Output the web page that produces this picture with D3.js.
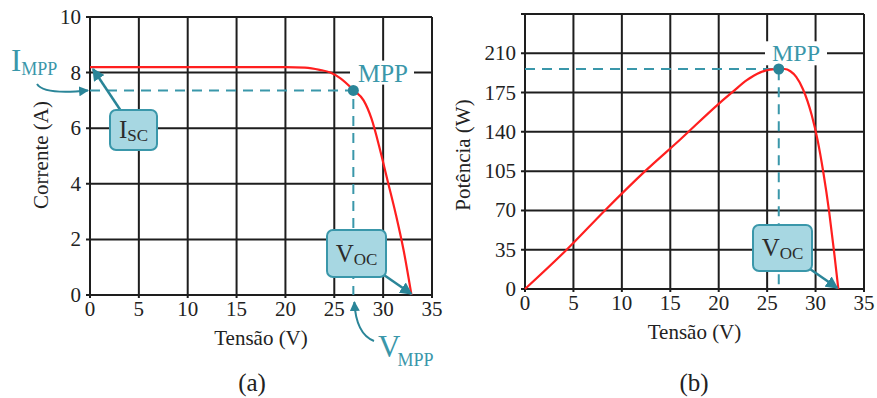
<!DOCTYPE html>
<html><head><meta charset="utf-8">
<script src="https://cdn.jsdelivr.net/npm/d3@7"></script>
<style>
html,body{margin:0;padding:0;background:#fff;}
svg{display:block;}
svg text{font-family:"Liberation Serif","Times New Roman",Tinos,"DejaVu Serif","Noto Serif",serif;}
</style></head>
<body>
<svg id="c" width="877" height="398"></svg>
<script>
// ---- Data ----
const xTicks = [0,5,10,15,20,25,30,35];
const ivTicks = [0,2,4,6,8,10];
const pvTicks = [0,35,70,105,140,175,210];
const pvGrid = [0,35,70,105,140,175,210,245];

const ivV = [0,5,10,15,20,22,23.5,24.6,25.6,27,28,28.8,29.7,30.5,31.3,32.1,32.9];
const ivI = [8.2,8.2,8.2,8.2,8.2,8.18,8.1,8.0,7.8,7.36,7.0,6.35,5.2,4.05,2.9,1.6,0];
const ivMpp = [26.95, 7.36];

const pvV = [0,4.3,8.25,12.4,16,20,21.5,22.9,24.3,25.3,26.2,26.8,27.4,28,28.7,29.6,30.2,30.8,31.4,31.9,32.35];
const pvP = [0,35,70,105,133,165,176,186,193,195.5,196,196,194,189,178,155,133,104,69,34,0];
const pvMpp = [26.2, 196];

const ivVoc = 32.9, pvVoc = 32.35;

// ---- Style ----
const TEAL = "#3a97aa", TEAL_D = "#2a8598", BOXF = "#a7d7e2", RED = "#ff1f1f", GRID = "#1e1e1e";
const svg = d3.select("#c");
const defs = svg.append("defs");
defs.append("marker").attr("id","ah").attr("viewBox","0 0 10 10").attr("refX",9).attr("refY",5)
  .attr("markerWidth",5).attr("markerHeight",5).attr("orient","auto-start-reverse")
  .append("path").attr("d","M0,0 L10,5 L0,10 z").attr("fill",TEAL_D);

function panel(cfg){
  const g = svg.append("g");
  const x = d3.scaleLinear().domain([0,35]).range(cfg.xr);
  const y = d3.scaleLinear().domain(cfg.yd).range(cfg.yr);
  g.append("g").selectAll("line").data(xTicks).join("line")
    .attr("x1",d=>x(d)).attr("x2",d=>x(d)).attr("y1",y.range()[1]).attr("y2",y.range()[0]+3)
    .attr("stroke",GRID).attr("stroke-width",2);
  g.append("g").selectAll("line").data(cfg.grid).join("line")
    .attr("y1",d=>y(d)).attr("y2",d=>y(d)).attr("x1",x.range()[0]-4).attr("x2",x.range()[1])
    .attr("stroke",GRID).attr("stroke-width",2);
  g.append("g").selectAll("text").data(xTicks).join("text")
    .attr("x",d=>x(d)).attr("y",y.range()[0]+21).attr("text-anchor","middle")
    .attr("font-size",21).attr("fill","#222").text(d=>d);
  g.append("g").selectAll("text").data(cfg.ticks).join("text")
    .attr("x",x.range()[0]-9).attr("y",d=>y(d)+7).attr("text-anchor","end")
    .attr("font-size",21).attr("fill","#222").text(d=>d);
  g.append("text").attr("x",(x.range()[0]+x.range()[1])/2).attr("y",y.range()[0]+50)
    .attr("text-anchor","middle").attr("font-size",21).attr("fill","#222").text("Tensão (V)");
  g.append("text").attr("transform",`translate(${cfg.ytX},155) rotate(-90)`)
    .attr("text-anchor","middle").attr("font-size",21).attr("fill","#222").text(cfg.ytitle);
  g.append("text").attr("x",cfg.capX).attr("y",391).attr("text-anchor","middle")
    .attr("font-size",25).attr("fill","#222").text(cfg.cap);
  return {g,x,y};
}

function box(g,x0,y0,w,h,main,sub,fs,sfs){
  g.append("rect").attr("x",x0).attr("y",y0).attr("width",w).attr("height",h).attr("rx",6)
    .attr("fill",BOXF).attr("stroke",TEAL).attr("stroke-width",2);
  const t = g.append("text").attr("x",x0+w/2).attr("y",y0+h/2+8).attr("text-anchor","middle").attr("fill","#2b2b2b");
  t.append("tspan").attr("font-size",fs).text(main);
  t.append("tspan").attr("font-size",sfs).attr("dy",3).text(sub);
}

// ---- Panel (a) ----
const A = panel({xr:[90,432], yd:[0,10], yr:[295,17], grid:ivTicks, ticks:ivTicks,
  ytitle:"Corrente (A)", ytX:48, cap:"(a)", capX:252});
{
  const {g,x,y} = A;
  const mx = x(ivMpp[0]), my = y(ivMpp[1]);
  g.append("path").attr("d",`M${x(0)},${my} H${mx} V${y(0)}`).attr("fill","none")
    .attr("stroke",TEAL).attr("stroke-width",2).attr("stroke-dasharray","10,7");
  g.append("rect").attr("x",350).attr("y",y(8)-12).attr("width",64).attr("height",24).attr("fill","#fff");
  g.append("text").attr("x",383).attr("y",y(8)+9).attr("text-anchor","middle").attr("font-size",25)
    .attr("fill",TEAL).text("MPP");
  const line = d3.line().x((d,i)=>x(ivV[i])).y((d,i)=>y(ivI[i])).curve(d3.curveMonotoneX);
  g.append("path").datum(ivV).attr("d",line).attr("fill","none").attr("stroke",RED).attr("stroke-width",2.2);
  g.append("circle").attr("cx",mx).attr("cy",my).attr("r",5.5).attr("fill",TEAL_D);
  g.append("line").attr("x1",121).attr("y1",111).attr("x2",x(0)+3).attr("y2",y(ivI[0])+2)
    .attr("stroke",TEAL_D).attr("stroke-width",2.5).attr("marker-end","url(#ah)");
  box(g,110,110,47,40,"I","SC",25,17);
  g.append("line").attr("x1",384).attr("y1",275).attr("x2",x(ivVoc)).attr("y2",y(0)-1)
    .attr("stroke",TEAL_D).attr("stroke-width",2.5).attr("marker-end","url(#ah)");
  box(g,327,230,59,47,"V","OC",25,17);
  const t1 = g.append("text").attr("x",11).attr("y",71).attr("fill",TEAL);
  t1.append("tspan").attr("font-size",31).text("I");
  t1.append("tspan").attr("font-size",18).attr("dy",4).text("MPP");
  g.append("path").attr("d",`M37,84 Q44,95 ${x(0)-2},${my}`).attr("fill","none")
    .attr("stroke",TEAL_D).attr("stroke-width",2).attr("marker-end","url(#ah)");
  const t2 = g.append("text").attr("x",378).attr("y",357).attr("fill",TEAL);
  t2.append("tspan").attr("font-size",31).text("V");
  t2.append("tspan").attr("font-size",18).attr("dy",9).attr("dx",-3).text("MPP");
  g.append("path").attr("d",`M374,341 Q356,334 ${mx+1},${y(0)+7}`).attr("fill","none")
    .attr("stroke",TEAL_D).attr("stroke-width",2).attr("marker-end","url(#ah)");
}

// ---- Panel (b) ----
const B = panel({xr:[525,864], yd:[0,245], yr:[289,14], grid:pvGrid, ticks:pvTicks,
  ytitle:"Potência (W)", ytX:470, cap:"(b)", capX:694});
{
  const {g,x,y} = B;
  const mx = x(pvMpp[0]), my = y(pvMpp[1]);
  g.append("path").attr("d",`M${x(0)},${my} H${mx} V${y(0)}`).attr("fill","none")
    .attr("stroke",TEAL).attr("stroke-width",2).attr("stroke-dasharray","10,7");
  g.append("rect").attr("x",765).attr("y",y(210)-12).attr("width",62).attr("height",24).attr("fill","#fff");
  g.append("text").attr("x",796).attr("y",y(210)+8).attr("text-anchor","middle").attr("font-size",24)
    .attr("fill",TEAL).text("MPP");
  const line = d3.line().x((d,i)=>x(pvV[i])).y((d,i)=>y(pvP[i])).curve(d3.curveMonotoneX);
  g.append("path").datum(pvV).attr("d",line).attr("fill","none").attr("stroke",RED).attr("stroke-width",2.2);
  g.append("circle").attr("cx",mx).attr("cy",my).attr("r",5.5).attr("fill",TEAL_D);
  g.append("line").attr("x1",810).attr("y1",269).attr("x2",x(pvVoc)-1).attr("y2",y(0)-1)
    .attr("stroke",TEAL_D).attr("stroke-width",2.5).attr("marker-end","url(#ah)");
  box(g,753,225,59,46,"V","OC",25,17);
}
</script>
</body></html>
